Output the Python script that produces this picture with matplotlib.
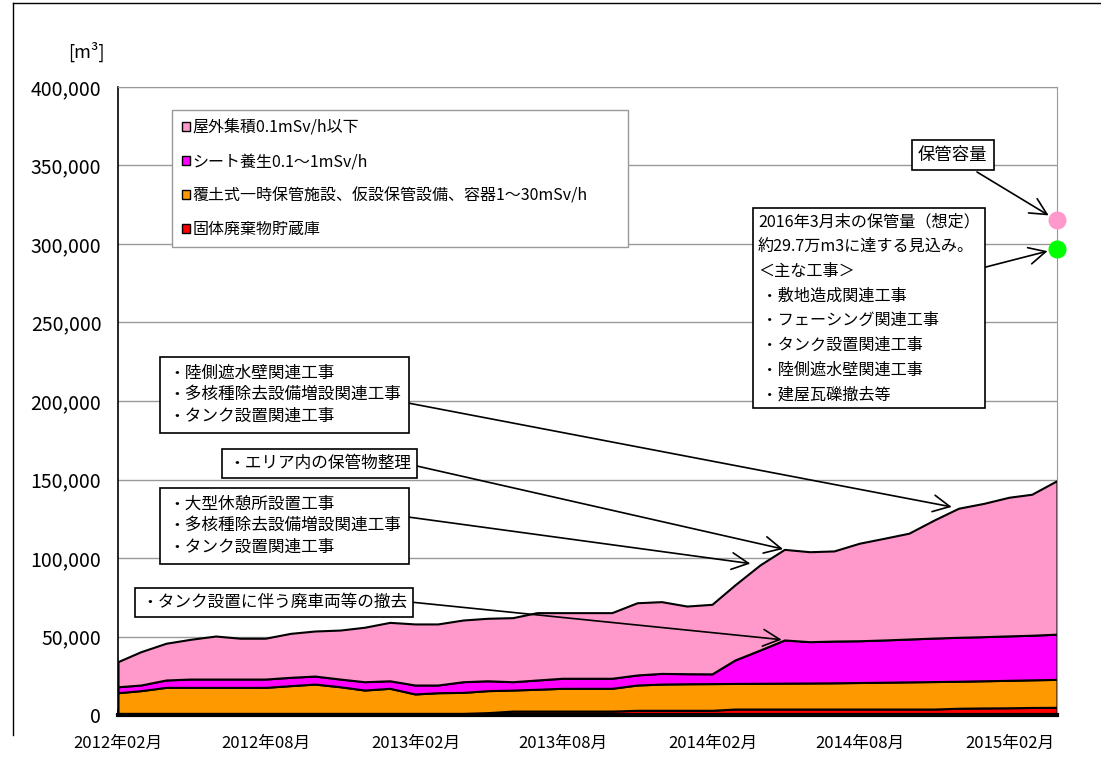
import matplotlib
matplotlib.use("Agg")
import matplotlib.pyplot as plt
import pandas as pd
from matplotlib.patches import Patch
from matplotlib.lines import Line2D

plt.rcParams['font.family'] = ['Noto Sans CJK JP', 'DejaVu Sans']

# month-end values, first point at the start of the axis
dates = [pd.Timestamp("2012-02-01")] + list(pd.date_range("2012-02-29", periods=38, freq="ME"))

# 固体廃棄物貯蔵庫
solid = [1000] * 15 + [1500] + [2500] * 5 + [3000] * 4 + [3800] * 9 + [4300, 4500, 4600, 4800, 4900]
# 覆土式一時保管施設、仮設保管設備、容器
covered = [13200, 14500, 16600, 16600, 16600, 16600, 16600, 17700, 18700, 17000,
           14900, 16000, 12400, 13200, 13400, 14000, 13400, 13900, 14500, 14500,
           14500, 16100, 16700, 16900, 17000, 16300, 16400, 16500, 16600, 16700,
           16900, 17100, 17300, 17500, 17200, 17300, 17500, 17600, 17800]
# シート養生
sheet = [3800, 3600, 4700, 5300, 5300, 5300, 5300, 5300, 5100, 4900,
         5300, 4800, 5700, 4900, 6800, 6300, 5300, 5900, 6400, 6400,
         6400, 6400, 6800, 6400, 6200, 14900, 21200, 27500, 26300, 26600,
         26600, 26900, 27300, 27700, 28000, 28100, 28300, 28400, 28800]
# 屋外集積
outdoor = [16000, 21200, 23400, 25300, 27400, 26000, 26000, 28000, 28700, 31200,
           34700, 37200, 38900, 38900, 39300, 39800, 40800, 42900, 41800, 41800,
           41800, 46000, 45700, 43100, 44300, 47800, 54200, 57700, 57300, 57400,
           62100, 64800, 67400, 75200, 82200, 84900, 88300, 89800, 97800]

labels = ["固体廃棄物貯蔵庫",
          "覆土式一時保管施設、仮設保管設備、容器1～30mSv/h",
          "シート養生0.1～1mSv/h",
          "屋外集積0.1mSv/h以下"]
colors = ["#FF0000", "#FF9900", "#FF00FF", "#FF99CC"]

capacity = 315000
forecast = 297000

W, H = 1101, 761


def px(x, y):
    return x / W, 1 - y / H


fig = plt.figure(figsize=(W / 100, H / 100), dpi=100)
ax = fig.add_axes([118 / W, 1 - 715 / H, (1057 - 118) / W, (715 - 87) / H])

ax.stackplot(dates, solid, covered, sheet, outdoor, colors=colors,
             edgecolor="black", linewidth=1.5, zorder=2)

ax.set_xlim(dates[0], dates[-1])
ax.set_ylim(0, 400000)
ax.set_yticks(range(0, 400001, 50000))
ax.set_yticklabels([f"{v:,}" for v in range(0, 400001, 50000)], fontsize=14)
ax.yaxis.grid(True, color="#999999", linewidth=1, zorder=0)
ax.set_axisbelow(True)
ax.tick_params(axis="y", length=0, pad=12)

ticks = pd.date_range("2012-02-01", "2015-02-01", freq="6MS")
ax.set_xticks(ticks)
ax.set_xticklabels([t.strftime("%Y年%m月") for t in ticks], fontsize=12)
ax.tick_params(axis="x", length=4, width=2, direction="in", pad=14)

for s in ["top", "right"]:
    ax.spines[s].set_color("#999999")
ax.spines["left"].set_linewidth(1.2)
ax.spines["bottom"].set_linewidth(3)
ax.spines["bottom"].set_zorder(5)

# capacity / forecast dots
ax.plot([dates[-1]], [capacity], "o", color="#FF99CC", markersize=12, clip_on=False, zorder=6)
ax.plot([dates[-1]], [forecast], "o", color="#00FF00", markersize=12, clip_on=False, zorder=6)

handles = [Patch(facecolor=c, edgecolor="black", linewidth=1) for c in colors[::-1]]
leg = ax.legend(handles, labels[::-1], loc="upper left",
                bbox_to_anchor=(54 / 939, 1 - 23 / 628, 456 / 939, 0), mode="expand",
                borderaxespad=0, fontsize=11.5, handlelength=0.5, handleheight=0.5,
                handletextpad=0.2, labelspacing=1.05, borderpad=0.6, fancybox=False,
                framealpha=1, edgecolor="#999999")
leg.get_frame().set_linewidth(1)

fig.text(*px(86, 52), "[m³]", fontsize=13, ha="center", va="center")

total = [a + b + c + d for a, b, c, d in zip(solid, covered, sheet, outdoor)]
magenta_top = [a + b + c for a, b, c in zip(solid, covered, sheet)]

arrow = dict(arrowstyle="->,head_length=0.8,head_width=0.4", color="black",
             lw=1.2, shrinkA=0, mutation_scale=15)
arrows = [
    ((408, 403), (dates[34], total[34]), 5),
    ((408, 464), (dates[27], total[27]), 1),
    ((408, 517), (dates[26], total[26]), 7),
    ((410, 602), (dates[27], magenta_top[27]), 2),
    ((977, 172), (dates[-1], capacity), 7),
    ((982, 268), (dates[-1], forecast), 7),
]
for start, target, shrink in arrows:
    ax.annotate("", xy=target, xycoords="data", xytext=px(*start),
                textcoords="figure fraction",
                arrowprops=dict(arrow, shrinkB=shrink), zorder=7)

notes = [
    ((168, 365), "・陸側遮水壁関連工事\n・多核種除去設備増設関連工事\n・タンク設置関連工事", 12, 1.33, 0.5),
    ((228, 455), "・エリア内の保管物整理", 12, 1.3, 0.38),
    ((168, 496), "・大型休憩所設置工事\n・多核種除去設備増設関連工事\n・タンク設置関連工事", 12, 1.33, 0.5),
    ((141, 594), "・タンク設置に伴う廃車両等の撤去", 12, 1.3, 0.38),
    ((918, 146), "保管容量", 12.5, 1.3, 0.35),
    ((758, 213), "2016年3月末の保管量（想定）\n約29.7万m3に達する見込み。\n＜主な工事＞\n ・敷地造成関連工事\n ・フェーシング関連工事\n ・タンク設置関連工事\n ・陸側遮水壁関連工事\n ・建屋瓦礫撤去等", 11.6, 1.6, 0.3),
]
for pos, s, fs, ls, pad in notes:
    fig.text(*px(*pos), s, fontsize=fs, linespacing=ls, ha="left", va="top",
             bbox=dict(boxstyle=f"square,pad={pad}", fc="white", ec="black", lw=1.2),
             zorder=8)

# outer frame
fig.add_artist(Line2D([13 / W, 1], [1 - 3 / H, 1 - 3 / H], color="black", lw=1))
fig.add_artist(Line2D([13 / W, 13 / W], [1 - 3 / H, 1 - 735 / H], color="black", lw=1))

fig.savefig("out.png", dpi=100)
